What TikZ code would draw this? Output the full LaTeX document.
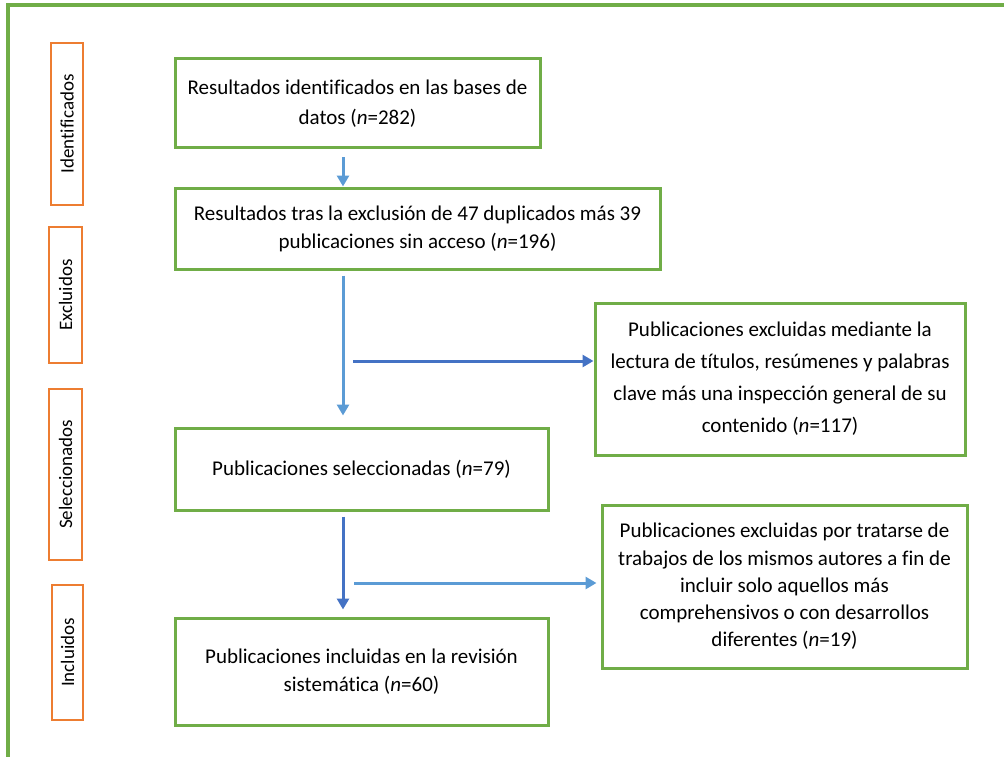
\documentclass[tikz,border=0pt]{standalone}
\usepackage{fontspec}
\setmainfont{Carlito}[Ligatures=NoCommon]
\usetikzlibrary{arrows.meta}
\definecolor{gr}{HTML}{70AD47}
\definecolor{orng}{HTML}{ED7D31}
\definecolor{lblue}{HTML}{5B9BD5}
\definecolor{dblue}{HTML}{4472C4}
\begin{document}
\begin{tikzpicture}[x=1pt,y=-1pt,
  box/.style={draw=gr, line width=3pt, align=center, inner sep=0pt},
  side/.style={draw=orng, line width=1.4pt, rotate=90, inner sep=0pt, font=\fontsize{19}{21}\selectfont},
  arr/.style={line width=3pt, -{Triangle[width=12pt,length=11pt]}},
  fs/.style={font=\fontsize{21}{#1}\selectfont}
]
\useasboundingbox (0,0) rectangle (1004,757);
\draw[gr, line width=3.5pt] (1004,5) -- (8,5) -- (8,757);

\node[side, minimum width=162, minimum height=32] (s1) at (67,124) {Identificados};
\node[side, minimum width=136, minimum height=33] (s2) at (65.5,295) {Excluidos};
\node[side, minimum width=171, minimum height=33] (s3) at (65.5,474.5) {Seleccionados};
\node[side, minimum width=135, minimum height=31] (s4) at (67.5,652.5) {Incluidos};

\node[box, fs=30, minimum width=365, minimum height=89] (b1) at (357.5,103.5)
  {Resultados identificados en las bases de\\ datos (\textit{n}=282)};
\node[box, fs=28, minimum width=485, minimum height=81] (b2) at (417.5,228.5)
  {Resultados tras la exclusión de 47 duplicados más 39\\ publicaciones sin acceso (\textit{n}=196)};
\node[box, fs=32, minimum width=370, minimum height=152] (b3) at (780,379)
  {Publicaciones excluidas mediante la\\ lectura de títulos, resúmenes y palabras\\ clave más una inspección general de su\\ contenido (\textit{n}=117)};
\node[box, fs=30, minimum width=373, minimum height=82] (b4) at (361.5,469)
  {Publicaciones seleccionadas (\textit{n}=79)};
\node[box, fs=27.3, minimum width=365, minimum height=163] (b5) at (784.5,586.5)
  {Publicaciones excluidas por tratarse de\\ trabajos de los mismos autores a fin de\\ incluir solo aquellos más\\ comprehensivos o con desarrollos\\ diferentes (\textit{n}=19)};
\node[box, fs=28, minimum width=373, minimum height=107] (b6) at (361.5,671.5)
  {Publicaciones incluidas en la revisión\\ sistemática (\textit{n}=60)};

\coordinate (ax) at (343,0);
\coordinate (h1) at (353,361);
\coordinate (h2) at (354,583);

\draw[arr, lblue, shorten <=8pt] (ax |- b1.south) -- (ax |- b2.north);
\draw[arr, lblue, shorten <=5pt, shorten >=11pt] (ax |- b2.south) -- (ax |- b4.north);
\draw[arr, dblue, shorten <=5pt, shorten >=7pt] (ax |- b4.south) -- (ax |- b6.north);
\draw[arr, dblue] (h1) -- (b3.west |- h1);
\draw[arr, lblue] (h2) -- ([xshift=-4pt]b5.west |- h2);
\end{tikzpicture}
\end{document}
